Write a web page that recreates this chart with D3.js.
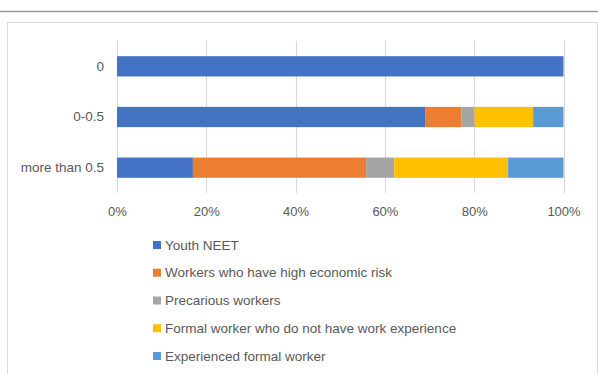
<!DOCTYPE html>
<html>
<head>
<meta charset="utf-8">
<script src="https://cdn.jsdelivr.net/npm/d3@7"></script>
<style>
  body { margin: 0; background: #fff; }
  text { font-family: "Liberation Sans", Arial, sans-serif; fill: #595959; }
</style>
</head>
<body>
<div id="chart"></div>
<script>
// categories (top to bottom) and series
var categories = ["0", "0-0.5", "more than 0.5"];
var seriesNames = [
  "Youth NEET",
  "Workers who have high economic risk",
  "Precarious workers",
  "Formal worker who do not have work experience",
  "Experienced formal worker"
];
var youthNeet = [100, 69.0, 17.0];
var highRisk = [0, 8.1, 38.8];
var precarious = [0, 3.0, 6.3];
var formalNoExp = [0, 13.1, 25.5];
var experienced = [0, 6.8, 12.4];
var tickValues = [0, 20, 40, 60, 80, 100];

var colors = ["#4472C4", "#ED7D31", "#A5A5A5", "#FFC000", "#5B9BD5"];
var seriesValues = [youthNeet, highRisk, precarious, formalNoExp, experienced];

// build rows for d3.stack
var rows = categories.map(function (c, i) {
  var r = { cat: c };
  seriesNames.forEach(function (s, j) { r[s] = seriesValues[j][i]; });
  return r;
});

var W = 598, H = 374;
var svg = d3.select("#chart").append("svg")
  .attr("width", W)
  .attr("height", H);

// page rule above the chart
svg.append("line")
  .attr("x1", 0).attr("x2", W)
  .attr("y1", 11.5).attr("y2", 11.5)
  .style("stroke", "#9a9a9a")
  .style("stroke-width", 1.5);

// chart frame
svg.append("rect")
  .attr("x", 7.5).attr("y", 22.5)
  .attr("width", 590).attr("height", 400)
  .style("fill", "#fff")
  .style("stroke", "#d9d9d9");

var plot = { left: 117, right: 563.5, top: 41, bottom: 193 };

var x = d3.scaleLinear()
  .domain([0, 100])
  .range([plot.left, plot.right]);

var y = d3.scaleBand()
  .domain(categories)
  .range([plot.top, plot.bottom])
  .paddingInner(0.6)
  .paddingOuter(0.3);

// gridlines
svg.append("g")
  .selectAll("line")
  .data(tickValues)
  .enter()
  .append("line")
  .attr("x1", function (d) { return Math.round(x(d)) + 0.5; })
  .attr("x2", function (d) { return Math.round(x(d)) + 0.5; })
  .attr("y1", plot.top)
  .attr("y2", plot.bottom)
  .style("stroke", "#d9d9d9")
  .style("stroke-width", 1.2);

// stacked bars
var stack = d3.stack().keys(seriesNames);
var layers = stack(rows);

svg.append("g")
  .selectAll("g")
  .data(layers)
  .enter()
  .append("g")
  .attr("fill", function (d, i) { return colors[i]; })
  .selectAll("rect")
  .data(function (d) { return d; })
  .enter()
  .append("rect")
  .attr("x", function (d) { return x(d[0]); })
  .attr("y", function (d) { return y(d.data.cat); })
  .attr("width", function (d) { return x(d[1]) - x(d[0]); })
  .attr("height", y.bandwidth());

// x axis labels
var xAxis = svg.append("g")
  .attr("transform", "translate(0," + (plot.bottom + 2) + ")")
  .call(d3.axisBottom(x)
    .tickValues(tickValues)
    .tickFormat(function (d) { return d + "%"; })
    .tickSize(0)
    .tickPadding(12));
xAxis.select(".domain").remove();
xAxis.selectAll("text")
  .style("font-family", "'Liberation Sans', Arial, sans-serif")
  .style("font-size", "13px")
  .attr("fill", "#595959");

// y axis labels
var yAxis = svg.append("g")
  .attr("transform", "translate(" + plot.left + ",0)")
  .call(d3.axisLeft(y).tickSize(0).tickPadding(13));
yAxis.select(".domain").remove();
yAxis.selectAll("text")
  .style("font-family", "'Liberation Sans', Arial, sans-serif")
  .style("font-size", "13.5px")
  .attr("fill", "#595959");

// legend
var ly = d3.scalePoint()
  .domain(seriesNames)
  .range([245, 356]);

var legend = svg.append("g")
  .selectAll("g")
  .data(seriesNames)
  .enter()
  .append("g")
  .attr("transform", function (d) { return "translate(153," + ly(d) + ")"; });

legend.append("rect")
  .attr("x", 0).attr("y", -4)
  .attr("width", 8).attr("height", 8)
  .attr("fill", function (d, i) { return colors[i]; });

legend.append("text")
  .attr("x", 12)
  .attr("dy", "0.35em")
  .style("font-size", "13.5px")
  .text(function (d) { return d; });
</script>
</body>
</html>
